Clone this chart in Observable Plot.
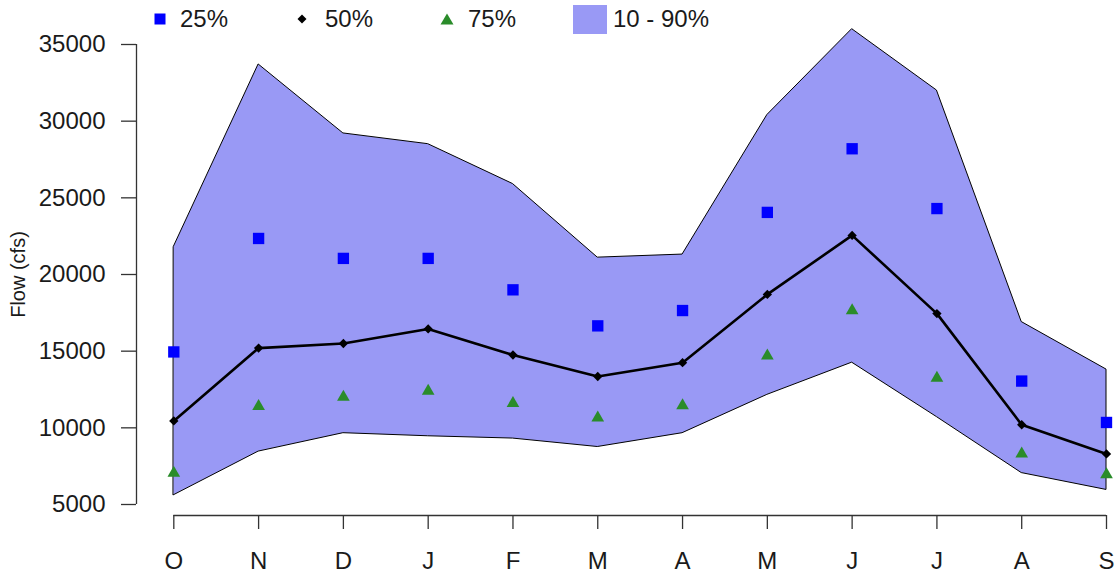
<!DOCTYPE html>
<html>
<head>
<meta charset="utf-8">
<script src="https://cdn.jsdelivr.net/npm/d3@7"></script>
<script src="https://cdn.jsdelivr.net/npm/@observablehq/plot@0.6"></script>
<style>
  html, body { margin: 0; padding: 0; background: #fff; }
  #figure { position: relative; width: 1116px; height: 574px; font-family: "Liberation Sans", Arial, Helvetica, sans-serif; color: #1a1a1a; }
  #legend { position: absolute; top: 0; left: 0; width: 1116px; height: 38px; font-size: 24px; }
  #legend .item { position: absolute; top: 0; height: 38px; display: flex; align-items: center; }
  #legend svg { display: block; }
  #legend span { line-height: 38px; }
</style>
</head>
<body>
<div id="figure">
  <div id="chart"></div>
  <div id="legend"></div>
</div>
<script>
// Monthly flow statistics across the water year (October to September), in cfs
const months = ["O", "N", "D", "J", "F", "M", "A", "M", "J", "J", "A", "S"];
const p10 = [5600, 8450, 9650, 9450, 9300, 8750, 9650, 12150, 14250, 10700, 7050, 5950];
const p90 = [21800, 33700, 29200, 28500, 25900, 21100, 21300, 30400, 36000, 32000, 16900, 13800];
const q25 = [14950, 22350, 21050, 21050, 19000, 16650, 17650, 24050, 28200, 24300, 13050, 10350];
const q50 = [10450, 15200, 15500, 16450, 14750, 13350, 14250, 18700, 22550, 17450, 10200, 8300];
const q75 = [7050, 11400, 12000, 12400, 11600, 10650, 11450, 14700, 17650, 13250, 8300, 6950];
const yTicks = [5000, 10000, 15000, 20000, 25000, 30000, 35000];
const legendLabels = ["25%", "50%", "75%", "10 - 90%"];
const yLabel = "Flow (cfs)";

const bandFill = "#9999f5";
const blue = "#0000ff";
const green = "#2a8c2a";
const axisColor = "#333";

const idx = d3.range(months.length);
const xDomain = [-0.44, months.length - 1];
const yDomain = [4282.6, 37217.4];

const chart = Plot.plot({
  width: 1116,
  height: 574,
  marginLeft: 136,
  marginRight: 10,
  marginTop: 10,
  marginBottom: 59,
  x: { type: "linear", domain: xDomain },
  y: { type: "linear", domain: yDomain },
  style: { fontFamily: "'Liberation Sans', Arial, Helvetica, sans-serif", fontSize: "24px", color: "#1a1a1a", background: "white", overflow: "visible" },
  marks: [
    // 10-90% envelope with its outline
    Plot.areaY(idx, { x: i => i, y1: i => p10[i], y2: i => p90[i], fill: bandFill, stroke: "black", strokeWidth: 1 }),
    // median line and points
    Plot.line(idx, { x: i => i, y: i => q50[i], stroke: "black", strokeWidth: 2.6 }),
    Plot.dot(idx, { x: i => i, y: i => q50[i], symbol: "diamond2", r: 4.2, fill: "black", stroke: "none" }),
    // quartile points
    Plot.dot(idx, { x: i => i, y: i => q25[i], symbol: "square", r: 6.4, fill: blue, stroke: "none" }),
    Plot.dot(idx, { x: i => i, y: i => q75[i], symbol: "triangle", r: 4.7, fill: green, stroke: "none" }),
    // axes: lines span only the tick range
    Plot.ruleX([{ x: xDomain[0], y1: yTicks[0], y2: yTicks[yTicks.length - 1] }], { x: "x", y1: "y1", y2: "y2", stroke: axisColor, strokeWidth: 1.3 }),
    Plot.ruleY([{ y: yDomain[0], x1: idx[0], x2: idx[idx.length - 1] }], { y: "y", x1: "x1", x2: "x2", stroke: axisColor, strokeWidth: 1.3 }),
    Plot.axisY(yTicks, { anchor: "left", tickSize: 15, tickPadding: 16, tickFormat: d3.format("d"), label: null, stroke: axisColor, strokeWidth: 1.3, fontSize: 24 }),
    Plot.axisX(idx, { anchor: "bottom", tickSize: 14, tickPadding: 22, tickFormat: i => months[i], label: null, stroke: axisColor, strokeWidth: 1.3, fontSize: 24 }),
    // y-axis title, centred on the tick range
    Plot.text([yLabel], { frameAnchor: "left", y: () => (yTicks[0] + yTicks[yTicks.length - 1]) / 2, dx: -118, rotate: -90, textAnchor: "middle", lineAnchor: "middle", fontSize: 20, fill: "#1a1a1a" })
  ]
});
document.getElementById("chart").appendChild(chart);

// Legend row
const legend = document.getElementById("legend");
const symbols = [
  `<svg width="12" height="12"><rect x="0.5" y="0.5" width="11" height="11" fill="${blue}"/></svg>`,
  `<svg width="10" height="10"><polygon points="5,0.5 9.5,5 5,9.5 0.5,5" fill="black"/></svg>`,
  `<svg width="14" height="12"><polygon points="7,0.5 13.5,11.5 0.5,11.5" fill="${green}"/></svg>`,
  `<svg width="34" height="29"><rect x="0" y="0" width="34" height="29" fill="${bandFill}"/></svg>`
];
const symbolLeft = [154, 297, 440, 573];
const textGap = [14, 18, 14, 6];
legendLabels.forEach((label, k) => {
  const item = document.createElement("div");
  item.className = "item";
  item.style.left = symbolLeft[k] + "px";
  item.innerHTML = symbols[k] + `<span style="margin-left:${textGap[k]}px">${label}</span>`;
  legend.appendChild(item);
});
</script>
</body>
</html>
